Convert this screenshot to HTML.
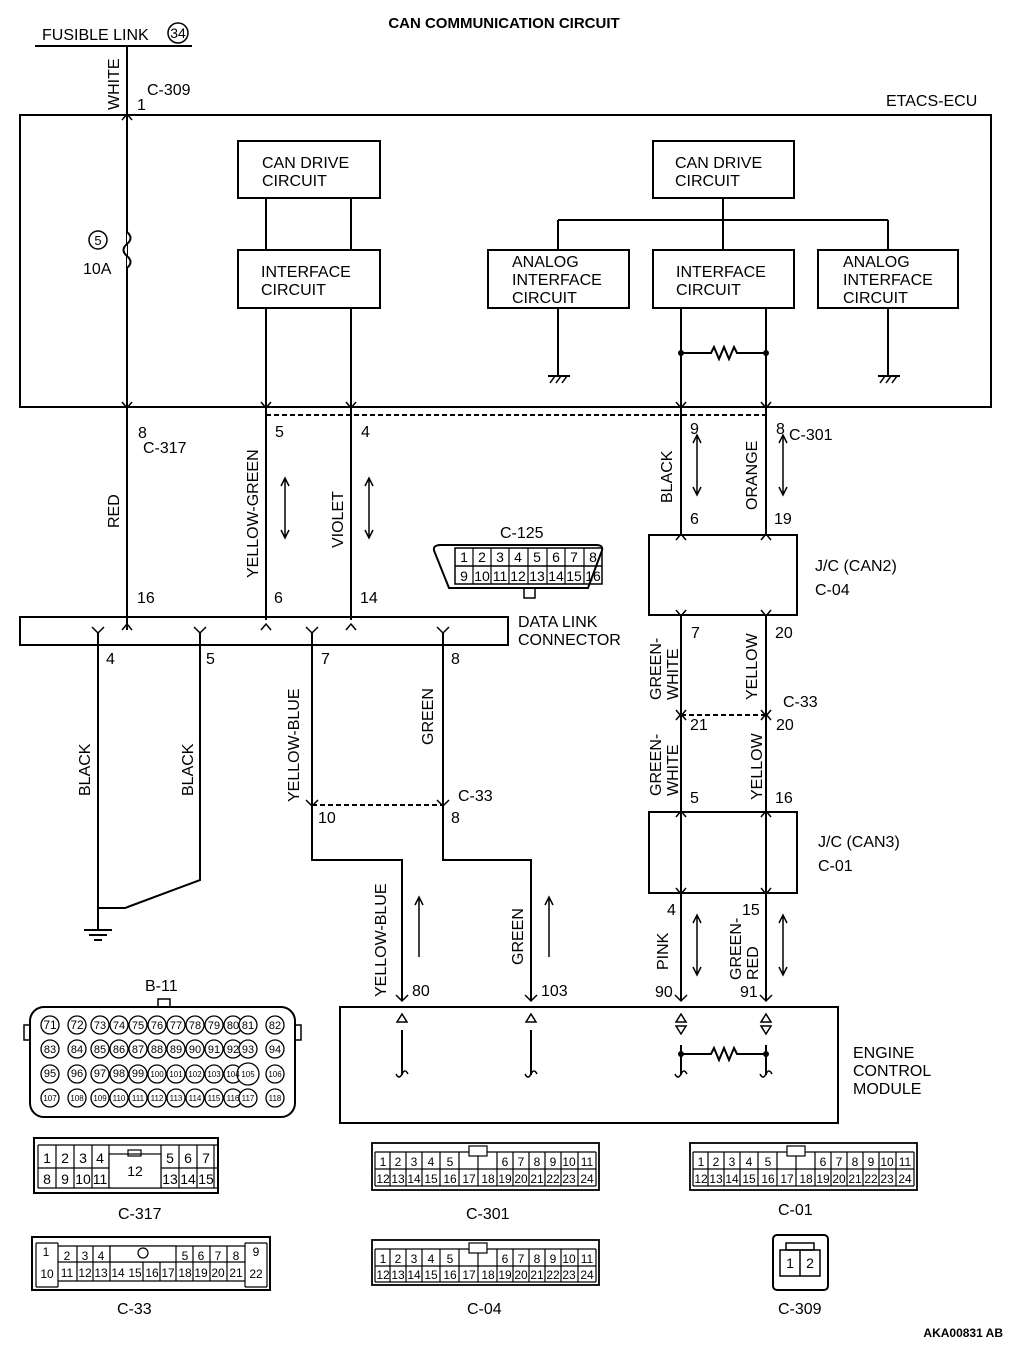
<!DOCTYPE html>
<html><head><meta charset="utf-8"><style>
html,body{margin:0;padding:0;background:#fff}
svg{display:block}
text{font-family:"Liberation Sans",sans-serif;fill:#000}
.t{font-size:16px}
.s{font-size:14px}
.p{font-size:11px}
</style></head><body>
<svg width="1010" height="1346" viewBox="0 0 1010 1346" xmlns="http://www.w3.org/2000/svg">
<g stroke="#000" stroke-width="2" fill="none">
<!-- fusible link -->
<line x1="35" y1="46" x2="192" y2="46"/>
<circle cx="178" cy="33" r="10" stroke-width="1.5"/>
<line x1="127" y1="46" x2="127" y2="407"/>
<!-- ETACS box -->
<rect x="20" y="115" width="971" height="292"/>
<!-- fuse -->
<path d="M127 232 q7 6 0 12 q-7 6 0 12 q7 6 0 12" fill="#fff" stroke-width="2"/>
<circle cx="98" cy="240" r="9" stroke-width="1.5"/>
<!-- left CAN -->
<rect x="238" y="141" width="142" height="57"/>
<rect x="238" y="250" width="142" height="58"/>
<line x1="266" y1="198" x2="266" y2="250"/><line x1="351" y1="198" x2="351" y2="250"/>
<line x1="266" y1="308" x2="266" y2="620"/><line x1="351" y1="308" x2="351" y2="620"/>
<!-- right CAN -->
<rect x="653" y="141" width="141" height="57"/>
<rect x="653" y="250" width="141" height="58"/>
<rect x="488" y="250" width="141" height="58"/>
<rect x="818" y="250" width="140" height="58"/>
<line x1="723" y1="198" x2="723" y2="250"/>
<line x1="558" y1="220" x2="888" y2="220"/>
<line x1="558" y1="220" x2="558" y2="250"/><line x1="888" y1="220" x2="888" y2="250"/>
<line x1="558" y1="308" x2="558" y2="376"/><line x1="888" y1="308" x2="888" y2="376"/>
<line x1="548" y1="376" x2="570" y2="376"/><line x1="878" y1="376" x2="900" y2="376"/>
<path d="M550 383l5-7M556 383l5-7M562 383l5-7M880 383l5-7M886 383l5-7M892 383l5-7" stroke-width="1.5"/>
<line x1="681" y1="308" x2="681" y2="620"/><line x1="766" y1="308" x2="766" y2="620"/>
<path d="M681 353h30l3-6 5 12 5-12 5 12 5-12 3 6h29"/>
<!-- dashed -->
<line x1="266" y1="415" x2="766" y2="415" stroke-dasharray="5,3"/>
<!-- red -->
<line x1="127" y1="407" x2="127" y2="630"/>
<!-- DLC -->
<rect x="20" y="617" width="488" height="28"/>
<line x1="98" y1="633" x2="98" y2="930"/>
<path d="M200 633V880L125 908H98"/>
<path d="M84 930h28M89 935h18M94 940h8"/>
<path d="M312 633V860H402V1000"/>
<path d="M443 633V860H531V1000"/>
<line x1="312" y1="805" x2="443" y2="805" stroke-dasharray="5,3"/>
<!-- JC boxes -->
<rect x="649" y="535" width="148" height="80" fill="#fff"/>
<rect x="649" y="812" width="148" height="81"/>
<line x1="681" y1="615" x2="681" y2="1000"/><line x1="766" y1="615" x2="766" y2="1000"/>
<line x1="681" y1="715" x2="766" y2="715" stroke-dasharray="5,3"/>
<!-- ECM -->
<rect x="340" y="1007" width="498" height="116"/>
<path d="M402 1030V1075M531 1030V1075M681 1045V1075M766 1045V1075"/>
<path d="M681 1054h30l3-6 5 12 5-12 5 12 5-12 3 6h29"/>
<path d="M396 1074q3 6 6 0t6 0M525 1074q3 6 6 0t6 0M675 1074q3 6 6 0t6 0M760 1074q3 6 6 0t6 0" stroke-width="1.5"/>
<path d="M397 1022h10l-5-8zM526 1022h10l-5-8zM676 1022h10l-5-8zM761 1022h10l-5-8zM676 1026h10l-5 8zM761 1026h10l-5 8z" stroke-width="1.5" fill="#fff"/>
<!-- pin arrow marks (chevrons) -->
<g stroke-width="1.5">
<path d="M122 120l5-6 5 6M122 402l5 6 5-6M122 630l5-6 5 6M261 402l5 6 5-6M346 402l5 6 5-6M261 630l5-6 5 6M346 630l5-6 5 6M676 402l5 6 5-6M761 402l5 6 5-6"/>
<path d="M676 540l5-6 5 6M761 540l5-6 5 6M676 610l5 6 5-6M761 610l5 6 5-6M676 710l5 6 5-6M761 710l5 6 5-6M676 720l5-6 5 6M761 720l5-6 5 6M676 817l5-6 5 6M761 817l5-6 5 6M676 888l5 6 5-6M761 888l5 6 5-6"/>
<path d="M92 627l6 6 6-6M194 627l6 6 6-6M306 627l6 6 6-6M437 627l6 6 6-6M306 800l6 6 6-6M437 800l6 6 6-6"/>
<path d="M396 995l6 6 6-6M525 995l6 6 6-6M675 995l6 6 6-6M760 995l6 6 6-6"/>
</g>
<!-- direction arrows -->
<g stroke-width="1.5">
<path d="M285 478v60M281 486l4-8 4 8M281 530l4 8 4-8M369 478v60M365 486l4-8 4 8M365 530l4 8 4-8"/>
<path d="M697 435v60M693 443l4-8 4 8M693 487l4 8 4-8M783 435v60M779 443l4-8 4 8M779 487l4 8 4-8"/>
<path d="M697 915v60M693 923l4-8 4 8M693 967l4 8 4-8M783 915v60M779 923l4-8 4 8M779 967l4 8 4-8"/>
<path d="M419 897v60M415 905l4-8 4 8M549 897v60M545 905l4-8 4 8"/>
</g>
<!-- C-125 -->
<path d="M441 545H596Q605 545 601 553L588 588H449L435 553Q431 545 441 545Z" fill="#fff"/>
<rect x="454" y="548" width="148" height="0" />
<rect x="455" y="548" width="147" height="36" stroke-width="1.5"/>
<line x1="455" y1="566" x2="602" y2="566" stroke-width="1.5"/>
<path d="M473 548v36M491 548v36M509 548v36M528 548v36M547 548v36M565 548v36M584 548v36" stroke-width="1.2"/>
<rect x="524" y="588" width="11" height="10" stroke-width="1.5"/>
<!-- B-11 -->
<rect x="30" y="1007" width="265" height="110" rx="14"/>
<rect x="158" y="999" width="12" height="8" stroke-width="1.5"/>
<rect x="24" y="1025" width="6" height="15" stroke-width="1.5"/><rect x="295" y="1025" width="6" height="15" stroke-width="1.5"/>
<!-- C-317 -->
<rect x="34" y="1138" width="184" height="55"/>
<path d="M38 1145h180M38 1168h180M38 1188h180M38 1145v43M56 1145v43M74 1145v43M92 1145v43M109 1145v43M161 1145v43M179 1145v43M197 1145v43M214 1145v43" stroke-width="1.2"/>
<rect x="109" y="1154" width="52" height="34" fill="#fff" stroke-width="1.2"/>
<rect x="128" y="1150" width="13" height="6" stroke-width="1.2"/>
<!-- C-33 -->
<rect x="32" y="1237" width="238" height="53"/>
<path d="M58 1246h187M58 1262h187M58 1281h187M36 1243v44M58 1243v44M245 1243v44M36 1243h22M245 1243h22M36 1287h22M245 1287h22M267 1243v44M77 1246v35M93 1246v35M110 1246v35M143 1246v35M160 1246v35M176 1262v19M193 1246v35M210 1246v35M227 1246v35M143 1262h33" stroke-width="1.2"/>
<rect x="110" y="1246" width="66" height="16" stroke-width="1.2" fill="#fff"/>
<circle cx="143" cy="1253" r="5" stroke-width="1.2"/>
<!-- C-301 / C-04 / C-01 -->
<g stroke-width="1.2">
<rect x="372" y="1143" width="227" height="47" stroke-width="1.8"/>
<path d="M375 1152h221M375 1169h221M375 1186h221M390 1152v34M406 1152v34M422 1152v34M440 1152v34M459 1152v34M478 1152v34M497 1152v34M513 1152v34M529 1152v34M545 1152v34M561 1152v34M578 1152v34M375 1152v34M596 1152v34"/>
<rect x="469" y="1146" width="18" height="10" fill="#fff"/>
<rect x="372" y="1240" width="227" height="45" stroke-width="1.8"/>
<path d="M375 1249h221M375 1266h221M375 1282h221M390 1249v33M406 1249v33M422 1249v33M440 1249v33M459 1249v33M478 1249v33M497 1249v33M513 1249v33M529 1249v33M545 1249v33M561 1249v33M578 1249v33M375 1249v33M596 1249v33"/>
<rect x="469" y="1243" width="18" height="10" fill="#fff"/>
<rect x="690" y="1143" width="227" height="47" stroke-width="1.8"/>
<path d="M693 1152h221M693 1169h221M693 1186h221M708 1152v34M724 1152v34M740 1152v34M758 1152v34M777 1152v34M796 1152v34M815 1152v34M831 1152v34M847 1152v34M863 1152v34M879 1152v34M896 1152v34M693 1152v34M914 1152v34"/>
<rect x="787" y="1146" width="18" height="10" fill="#fff"/>
</g>
<!-- C-309 -->
<rect x="773" y="1235" width="55" height="55" rx="4"/>
<rect x="780" y="1250" width="40" height="26" stroke-width="1.5"/>
<line x1="800" y1="1250" x2="800" y2="1276" stroke-width="1.5"/>
<path d="M786 1243h28v7h-28z" stroke-width="1.5"/>
</g>
<!-- dots -->
<g fill="#000">
<circle cx="681" cy="353" r="3"/><circle cx="766" cy="353" r="3"/>
<circle cx="681" cy="1054" r="3"/><circle cx="766" cy="1054" r="3"/>
</g>
<!-- B-11 pins -->
<g stroke="#000" stroke-width="1.3" fill="#fff">
<circle cx="50" cy="1025" r="9"/><circle cx="77" cy="1025" r="9"/><circle cx="100" cy="1025" r="9"/><circle cx="119" cy="1025" r="9"/><circle cx="138" cy="1025" r="9"/><circle cx="157" cy="1025" r="9"/><circle cx="176" cy="1025" r="9"/><circle cx="195" cy="1025" r="9"/><circle cx="214" cy="1025" r="9"/><circle cx="233" cy="1025" r="9"/><circle cx="248" cy="1025" r="9"/><circle cx="275" cy="1025" r="9"/>
<circle cx="50" cy="1049" r="9"/><circle cx="77" cy="1049" r="9"/><circle cx="100" cy="1049" r="9"/><circle cx="119" cy="1049" r="9"/><circle cx="138" cy="1049" r="9"/><circle cx="157" cy="1049" r="9"/><circle cx="176" cy="1049" r="9"/><circle cx="195" cy="1049" r="9"/><circle cx="214" cy="1049" r="9"/><circle cx="233" cy="1049" r="9"/><circle cx="248" cy="1049" r="9"/><circle cx="275" cy="1049" r="9"/>
<circle cx="50" cy="1074" r="9"/><circle cx="77" cy="1074" r="9"/><circle cx="100" cy="1074" r="9"/><circle cx="119" cy="1074" r="9"/><circle cx="138" cy="1074" r="9"/><circle cx="157" cy="1074" r="9"/><circle cx="176" cy="1074" r="9"/><circle cx="195" cy="1074" r="9"/><circle cx="214" cy="1074" r="9"/><circle cx="233" cy="1074" r="9"/><circle cx="248" cy="1074" r="11"/><circle cx="275" cy="1074" r="9"/>
<circle cx="50" cy="1098" r="9"/><circle cx="77" cy="1098" r="9"/><circle cx="100" cy="1098" r="9"/><circle cx="119" cy="1098" r="9"/><circle cx="138" cy="1098" r="9"/><circle cx="157" cy="1098" r="9"/><circle cx="176" cy="1098" r="9"/><circle cx="195" cy="1098" r="9"/><circle cx="214" cy="1098" r="9"/><circle cx="233" cy="1098" r="9"/><circle cx="248" cy="1098" r="9"/><circle cx="275" cy="1098" r="9"/>
</g>
<g class="p" text-anchor="middle" font-size="11">
<text x="50" y="1029" font-size="12">71</text><text x="77" y="1029" font-size="12">72</text><text x="100" y="1029">73</text><text x="119" y="1029">74</text><text x="138" y="1029">75</text><text x="157" y="1029">76</text><text x="176" y="1029">77</text><text x="195" y="1029">78</text><text x="214" y="1029">79</text><text x="233" y="1029">80</text><text x="248" y="1029">81</text><text x="275" y="1029">82</text>
<text x="50" y="1053">83</text><text x="77" y="1053">84</text><text x="100" y="1053">85</text><text x="119" y="1053">86</text><text x="138" y="1053">87</text><text x="157" y="1053">88</text><text x="176" y="1053">89</text><text x="195" y="1053">90</text><text x="214" y="1053">91</text><text x="233" y="1053">92</text><text x="248" y="1053">93</text><text x="275" y="1053">94</text>
<g font-size="8"><text x="50" y="1077" font-size="11">95</text><text x="77" y="1077" font-size="11">96</text><text x="100" y="1077" font-size="11">97</text><text x="119" y="1077" font-size="11">98</text><text x="138" y="1077" font-size="11">99</text><text x="157" y="1077">100</text><text x="176" y="1077">101</text><text x="195" y="1077">102</text><text x="214" y="1077">103</text><text x="233" y="1077">104</text><text x="248" y="1077">105</text><text x="275" y="1077">106</text>
<text x="50" y="1101">107</text><text x="77" y="1101">108</text><text x="100" y="1101">109</text><text x="119" y="1101">110</text><text x="138" y="1101">111</text><text x="157" y="1101">112</text><text x="176" y="1101">113</text><text x="195" y="1101">114</text><text x="214" y="1101">115</text><text x="233" y="1101">116</text><text x="248" y="1101">117</text><text x="275" y="1101">118</text></g>
</g>
<!-- text -->
<text x="504" y="28" text-anchor="middle" font-size="15" font-weight="bold">CAN COMMUNICATION CIRCUIT</text>
<text class="t" x="42" y="40">FUSIBLE LINK</text>
<text x="178" y="38" text-anchor="middle" font-size="14">34</text>
<text class="t" transform="translate(119,110) rotate(-90)">WHITE</text>
<text class="t" x="147" y="95">C-309</text><text class="t" x="137" y="110">1</text>
<text class="t" x="886" y="106">ETACS-ECU</text>
<text x="98" y="245" text-anchor="middle" font-size="13">5</text>
<text class="t" x="83" y="274">10A</text>
<g class="t">
<text x="262" y="168">CAN DRIVE</text><text x="262" y="186">CIRCUIT</text>
<text x="261" y="277">INTERFACE</text><text x="261" y="295">CIRCUIT</text>
<text x="675" y="168">CAN DRIVE</text><text x="675" y="186">CIRCUIT</text>
<text x="676" y="277">INTERFACE</text><text x="676" y="295">CIRCUIT</text>
<text x="512" y="267">ANALOG</text><text x="512" y="285">INTERFACE</text><text x="512" y="303">CIRCUIT</text>
<text x="843" y="267">ANALOG</text><text x="843" y="285">INTERFACE</text><text x="843" y="303">CIRCUIT</text>
<text x="138" y="438">8</text><text x="143" y="453">C-317</text>
<text x="275" y="437">5</text><text x="361" y="437">4</text>
<text x="690" y="434">9</text><text x="776" y="434">8</text><text x="789" y="440">C-301</text>
<text transform="translate(119,528) rotate(-90)">RED</text>
<text transform="translate(258,578) rotate(-90)">YELLOW-GREEN</text>
<text transform="translate(343,548) rotate(-90)">VIOLET</text>
<text transform="translate(672,503) rotate(-90)">BLACK</text>
<text transform="translate(757,510) rotate(-90)">ORANGE</text>
<text x="690" y="524">6</text><text x="774" y="524">19</text>
<text x="815" y="571">J/C (CAN2)</text><text x="815" y="595">C-04</text>
<text x="500" y="538">C-125</text>
<text x="137" y="603">16</text><text x="274" y="603">6</text><text x="360" y="603">14</text>
<text x="518" y="627">DATA LINK</text><text x="518" y="645">CONNECTOR</text>
<text x="106" y="664">4</text><text x="206" y="664">5</text><text x="321" y="664">7</text><text x="451" y="664">8</text>
<text x="691" y="638">7</text><text x="775" y="638">20</text>
<text transform="translate(661,700) rotate(-90)">GREEN-</text><text transform="translate(678,700) rotate(-90)">WHITE</text>
<text transform="translate(757,700) rotate(-90)">YELLOW</text>
<text x="783" y="707">C-33</text>
<text x="690" y="730">21</text><text x="776" y="730">20</text>
<text transform="translate(661,796) rotate(-90)">GREEN-</text><text transform="translate(678,796) rotate(-90)">WHITE</text>
<text transform="translate(762,800) rotate(-90)">YELLOW</text>
<text x="690" y="803">5</text><text x="775" y="803">16</text>
<text x="818" y="847">J/C (CAN3)</text><text x="818" y="871">C-01</text>
<text transform="translate(90,796) rotate(-90)">BLACK</text>
<text transform="translate(193,796) rotate(-90)">BLACK</text>
<text transform="translate(299,802) rotate(-90)">YELLOW-BLUE</text>
<text transform="translate(433,745) rotate(-90)">GREEN</text>
<text x="458" y="801">C-33</text>
<text x="318" y="823">10</text><text x="451" y="823">8</text>
<text transform="translate(386,997) rotate(-90)">YELLOW-BLUE</text>
<text transform="translate(523,965) rotate(-90)">GREEN</text>
<text x="412" y="996">80</text><text x="541" y="996">103</text>
<text x="667" y="915">4</text><text x="742" y="915">15</text>
<text transform="translate(668,970) rotate(-90)">PINK</text>
<text transform="translate(741,980) rotate(-90)">GREEN-</text><text transform="translate(758,980) rotate(-90)">RED</text>
<text x="655" y="997">90</text><text x="740" y="997">91</text>
<text x="853" y="1058">ENGINE</text><text x="853" y="1076">CONTROL</text><text x="853" y="1094">MODULE</text>
<text x="145" y="991">B-11</text>
<text x="118" y="1219">C-317</text>
<text x="117" y="1314">C-33</text>
<text x="466" y="1219">C-301</text>
<text x="467" y="1314">C-04</text>
<text x="778" y="1215">C-01</text>
<text x="778" y="1314">C-309</text>
</g>
<text x="1003" y="1337" text-anchor="end" font-size="12" font-weight="bold">AKA00831 AB</text>
<!-- C-125 numbers -->
<g class="s" text-anchor="middle" font-size="13">
<text x="464" y="562">1</text><text x="482" y="562">2</text><text x="500" y="562">3</text><text x="518" y="562">4</text><text x="537" y="562">5</text><text x="556" y="562">6</text><text x="574" y="562">7</text><text x="593" y="562">8</text>
<text x="464" y="581">9</text><text x="482" y="581">10</text><text x="500" y="581">11</text><text x="518" y="581">12</text><text x="537" y="581">13</text><text x="556" y="581">14</text><text x="574" y="581">15</text><text x="593" y="581">16</text>
</g>
<!-- C-317 numbers -->
<g font-size="14" text-anchor="middle">
<text x="47" y="1163">1</text><text x="65" y="1163">2</text><text x="83" y="1163">3</text><text x="100" y="1163">4</text><text x="170" y="1163">5</text><text x="188" y="1163">6</text><text x="206" y="1163">7</text>
<text x="47" y="1184">8</text><text x="65" y="1184">9</text><text x="83" y="1184">10</text><text x="100" y="1184">11</text><text x="135" y="1176">12</text><text x="170" y="1184">13</text><text x="188" y="1184">14</text><text x="206" y="1184">15</text>
</g>
<!-- C-33 numbers -->
<g font-size="12" text-anchor="middle">
<text x="46" y="1256">1</text><text x="67" y="1260">2</text><text x="85" y="1260">3</text><text x="101" y="1260">4</text><text x="185" y="1260">5</text><text x="201" y="1260">6</text><text x="218" y="1260">7</text><text x="236" y="1260">8</text><text x="256" y="1256">9</text>
<text x="47" y="1278">10</text><text x="67" y="1277">11</text><text x="85" y="1277">12</text><text x="101" y="1277">13</text><text x="118" y="1277">14</text><text x="135" y="1277">15</text><text x="152" y="1277">16</text><text x="168" y="1277">17</text><text x="185" y="1277">18</text><text x="201" y="1277">19</text><text x="218" y="1277">20</text><text x="236" y="1277">21</text><text x="256" y="1278">22</text>
</g>
<!-- C-301, C-04, C-01 numbers -->
<g font-size="12" text-anchor="middle">
<text x="383" y="1166">1</text><text x="398" y="1166">2</text><text x="414" y="1166">3</text><text x="431" y="1166">4</text><text x="450" y="1166">5</text><text x="505" y="1166">6</text><text x="521" y="1166">7</text><text x="537" y="1166">8</text><text x="553" y="1166">9</text><text x="569" y="1166">10</text><text x="587" y="1166">11</text>
<text x="383" y="1183">12</text><text x="398" y="1183">13</text><text x="414" y="1183">14</text><text x="431" y="1183">15</text><text x="450" y="1183">16</text><text x="469" y="1183">17</text><text x="488" y="1183">18</text><text x="505" y="1183">19</text><text x="521" y="1183">20</text><text x="537" y="1183">21</text><text x="553" y="1183">22</text><text x="569" y="1183">23</text><text x="587" y="1183">24</text>
<text x="383" y="1263">1</text><text x="398" y="1263">2</text><text x="414" y="1263">3</text><text x="431" y="1263">4</text><text x="450" y="1263">5</text><text x="505" y="1263">6</text><text x="521" y="1263">7</text><text x="537" y="1263">8</text><text x="553" y="1263">9</text><text x="569" y="1263">10</text><text x="587" y="1263">11</text>
<text x="383" y="1279">12</text><text x="398" y="1279">13</text><text x="414" y="1279">14</text><text x="431" y="1279">15</text><text x="450" y="1279">16</text><text x="469" y="1279">17</text><text x="488" y="1279">18</text><text x="505" y="1279">19</text><text x="521" y="1279">20</text><text x="537" y="1279">21</text><text x="553" y="1279">22</text><text x="569" y="1279">23</text><text x="587" y="1279">24</text>
<text x="701" y="1166">1</text><text x="716" y="1166">2</text><text x="732" y="1166">3</text><text x="749" y="1166">4</text><text x="768" y="1166">5</text><text x="823" y="1166">6</text><text x="839" y="1166">7</text><text x="855" y="1166">8</text><text x="871" y="1166">9</text><text x="887" y="1166">10</text><text x="905" y="1166">11</text>
<text x="701" y="1183">12</text><text x="716" y="1183">13</text><text x="732" y="1183">14</text><text x="749" y="1183">15</text><text x="768" y="1183">16</text><text x="787" y="1183">17</text><text x="806" y="1183">18</text><text x="823" y="1183">19</text><text x="839" y="1183">20</text><text x="855" y="1183">21</text><text x="871" y="1183">22</text><text x="887" y="1183">23</text><text x="905" y="1183">24</text>
<text x="790" y="1268" font-size="14">1</text><text x="810" y="1268" font-size="14">2</text>
</g>
</svg>
</body></html>
